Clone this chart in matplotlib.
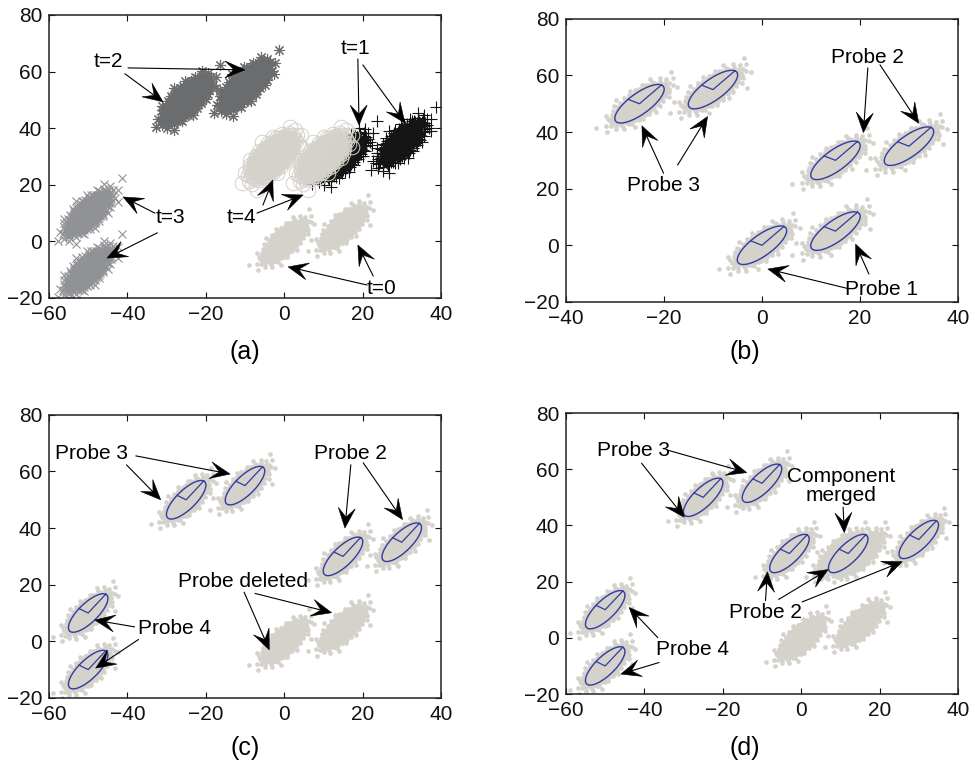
import numpy as np
import matplotlib.pyplot as plt
from matplotlib.patches import Polygon

plt.rcParams['font.family'] = ['Liberation Sans', 'DejaVu Sans']

# cluster centres at each time step
t0_centres = [(0, 0), (15, 5)]
t1_centres = [(15, 30), (30, 35)]
t2_centres = [(-25, 50), (-10, 55)]
t3_centres = [(-50, 10), (-50, -10)]
t4_centres = [(-3, 30), (10, 30)]

# spread of every cluster (std along / across main axis) and its tilt
sig_major, sig_minor, tilt_deg = 4.0, 1.5, 56.0
# fitted probe ellipse (semi axes)
ell_a, ell_b = 8.0, 2.8

probes_b = t0_centres + t1_centres + t2_centres
probes_c = t2_centres + t1_centres + t3_centres
probes_d = t2_centres + t3_centres + [(-3, 30), (12, 30), (30, 35)]

# annotations: label, label position, list of (start, tip)
notes_a = [
    ("t=2", (-44.9, 63.4), [((-39.8, 61.3), (-10.0, 60.6)), ((-40.6, 59.2), (-30.9, 49.3))]),
    ("t=1", (18.3, 68.0), [((18.8, 64.4), (19.1, 41.1)), ((20.1, 62.3), (30.8, 41.8))]),
    ("t=3", (-29.1, 8.3), [((-33.0, 10.0), (-41.1, 15.7)), ((-32.4, 3.0), (-45.2, -5.9))]),
    ("t=4", (-11.0, 8.6), [((-5.4, 12.9), (-2.9, 21.7)), ((-6.9, 10.0), (4.8, 16.4))]),
    ("t=0", (24.9, -16.5), [((21.1, -15.4), (1.0, -9.0)), ((22.7, -12.2), (18.8, -1.3))]),
]
notes_b = [
    ("Probe 2", (21.6, 66.5), [((21.6, 62.6), (20.7, 39.8)), ((24.1, 63.7), (32.0, 43.1))]),
    ("Probe 3", (-20.1, 21.0), [((-20.1, 25.5), (-24.5, 42.2)), ((-17.2, 28.4), (-11.1, 45.5))]),
    ("Probe 1", (24.3, -15.8), [((17.3, -15.2), (1.2, -8.4)), ((21.8, -10.1), (19.1, 0.4))]),
]
notes_c = [
    ("Probe 3", (-49.1, 66.5), [((-37.8, 65.5), (-13.8, 59.1)), ((-40.2, 62.3), (-31.5, 50.0))]),
    ("Probe 2", (17.0, 66.5), [((17.0, 62.3), (15.5, 40.0)), ((20.2, 63.0), (30.2, 43.0))]),
    ("Probe deleted", (-10.4, 21.1), [((-10.2, 17.3), (-3.8, -3.0)), ((-7.4, 16.9), (12.1, 10.1))]),
    ("Probe 4", (-28.1, 4.6), [((-38.2, 5.1), (-48.3, 7.5)), ((-37.2, 0.6), (-48.1, -9.5))]),
]
notes_d = [
    ("Probe 3", (-42.8, 66.8), [((-34.1, 66.8), (-13.9, 58.8)), ((-40.7, 62.1), (-29.8, 42.9))]),
    ("Component\nmerged", (10.2, 54.0), [((10.7, 46.4), (11.0, 37.4))]),
    ("Probe 2", (-9.2, 8.9), [((-9.1, 13.3), (-8.6, 23.5)), ((-5.7, 13.7), (6.9, 24.3)),
                              ((0.3, 12.8), (25.8, 27.1))]),
    ("Probe 4", (-27.8, -4.1), [((-36.6, 0.1), (-43.9, 10.8)), ((-36.3, -8.8), (-46.0, -12.9))]),
]

light = '#d5d1cb'
blue = '#2e3da0'
th = np.deg2rad(tilt_deg)


def cloud(cx, cy, n):
    # sunflower layout with gaussian radial profile
    k = np.arange(n)
    r = np.sqrt(-2 * np.log(1 - (k + 0.5) / n))
    phi = k * np.pi * (3 - np.sqrt(5))
    u = r * np.cos(phi) * sig_major
    w = r * np.sin(phi) * sig_minor
    return cx + u * np.cos(th) - w * np.sin(th), cy + u * np.sin(th) + w * np.cos(th)


def draw_dots(ax, centres, n=600):
    for cx, cy in centres:
        x, y = cloud(cx, cy, n)
        ax.plot(x, y, ls='none', marker='o', ms=3.0, mfc=light, mec=light, mew=0.3, zorder=1)


def draw_probe(ax, cx, cy):
    t = np.linspace(0, 2 * np.pi, 200)
    u, w = ell_a * np.cos(t), ell_b * np.sin(t)
    ax.plot(cx + u * np.cos(th) - w * np.sin(th), cy + u * np.sin(th) + w * np.cos(th),
            color=blue, lw=1.0, zorder=3)
    ax.plot([cx - ell_b * np.sin(th), cx, cx + ell_a * np.cos(th)],
            [cy + ell_b * np.cos(th), cy, cy + ell_a * np.sin(th)],
            color=blue, lw=0.9, zorder=3)


def arrow(ax, start, tip, L=20, W=17):
    p0 = ax.transData.transform(start)
    p1 = ax.transData.transform(tip)
    d = (p1 - p0) / np.hypot(*(p1 - p0))
    nrm = np.array([-d[1], d[0]])
    back = p1 - L * d
    notch = p1 - 0.55 * L * d
    pts = np.array([p1, back + W / 2 * nrm, notch, back - W / 2 * nrm])
    pts = ax.transData.inverted().transform(pts)
    ax.add_patch(Polygon(pts, closed=True, fc='k', ec='k', lw=0.4, clip_on=False, zorder=6))
    ax.plot([start[0], pts[2][0]], [start[1], pts[2][1]], color='k', lw=0.8,
            clip_on=False, zorder=6)


def annotate(ax, notes):
    for label, pos, arrows in notes:
        ax.text(pos[0], pos[1], label, fontsize=15, ha='center', va='center',
                linespacing=1.0, zorder=7)
        for s, e in arrows:
            arrow(ax, s, e)


def style(ax, xlim):
    ax.set_xlim(*xlim)
    ax.set_ylim(-20, 80)
    ax.set_xticks(np.arange(xlim[0], xlim[1] + 1, 20))
    ax.set_yticks(np.arange(-20, 81, 20))
    ax.tick_params(direction='in', top=True, right=True, length=4, width=0.8,
                   labelsize=15, pad=5, colors='#111111')
    for sp in ax.spines.values():
        sp.set_linewidth(1.1)
        sp.set_color('#222222')


fig = plt.figure(figsize=(9.7, 7.72), dpi=100)
ax_a = fig.add_axes([0.0505, 0.614, 0.4041, 0.3666])
ax_b = fig.add_axes([0.5835, 0.609, 0.4041, 0.3666])
ax_c = fig.add_axes([0.0505, 0.096, 0.4041, 0.3666])
ax_d = fig.add_axes([0.5835, 0.101, 0.4041, 0.364])

style(ax_a, (-60, 40))
style(ax_b, (-40, 40))
style(ax_c, (-60, 40))
style(ax_d, (-60, 40))

# (a) raw samples at each time step
draw_dots(ax_a, t0_centres, 600)
for cx, cy in t1_centres:
    x, y = cloud(cx, cy, 700)
    ax_a.plot(x, y, ls='none', marker='+', ms=8, mec='#151515', mew=0.8)
for cx, cy in t2_centres:
    x, y = cloud(cx, cy, 700)
    ax_a.plot(x, y, ls='none', marker=(8, 2, 0), ms=8, mec='#6b6c6e', mew=0.8)
for cx, cy in t3_centres:
    x, y = cloud(cx, cy, 700)
    ax_a.plot(x, y, ls='none', marker='x', ms=6, mec='#909295', mew=0.8)
for cx, cy in t4_centres:
    x, y = cloud(cx, cy, 500)
    ax_a.plot(x, y, ls='none', marker='o', ms=10.5, mfc='none', mec=light, mew=0.7)
annotate(ax_a, notes_a)

# (b)-(d) samples with fitted probes
draw_dots(ax_b, t0_centres + t1_centres + t2_centres)
for c in probes_b:
    draw_probe(ax_b, *c)
annotate(ax_b, notes_b)

draw_dots(ax_c, t0_centres + t1_centres + t2_centres + t3_centres)
for c in probes_c:
    draw_probe(ax_c, *c)
annotate(ax_c, notes_c)

draw_dots(ax_d, t0_centres + t1_centres + t2_centres + t3_centres + t4_centres)
for c in probes_d:
    draw_probe(ax_d, *c)
annotate(ax_d, notes_d)

for lab, (x, y) in zip(['(a)', '(b)', '(c)', '(d)'],
                       [(245, 352), (745, 352), (245, 748), (745, 748)]):
    fig.text(x / 970, 1 - y / 772, lab, fontsize=18, ha='center', va='center')

fig.savefig('out.png', dpi=100)
